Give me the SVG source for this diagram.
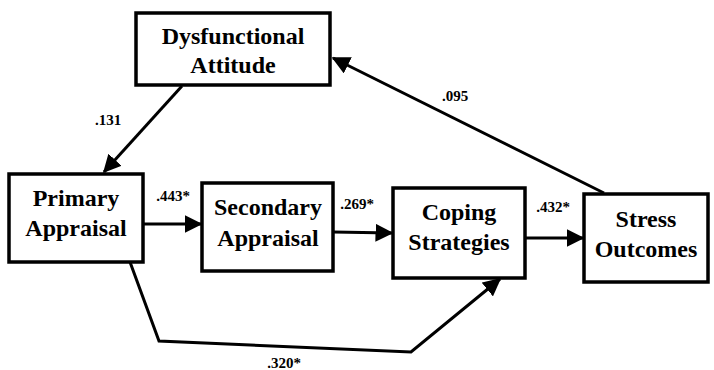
<svg xmlns="http://www.w3.org/2000/svg" width="714" height="370" viewBox="0 0 714 370">
<defs>
<marker id="ah" markerWidth="6" markerHeight="6" refX="5.5" refY="3" orient="auto" markerUnits="strokeWidth">
<path d="M0,0 L6,3 L0,6 z" fill="#000"/>
</marker>
</defs>
<style>
.box{fill:#fff;stroke:#000;stroke-width:3.5}
.nt{font-family:"Liberation Serif","Times New Roman",serif;font-weight:bold;font-size:24px;text-anchor:middle;fill:#000}
.lb{font-family:"Liberation Serif","Times New Roman",serif;font-weight:bold;font-size:15px;text-anchor:middle;fill:#000}
.c{fill:none;stroke:#000;stroke-width:3}
</style>
<rect width="714" height="370" fill="#fff"/>
<g id="connectors">
<line class="c" x1="182" y1="86" x2="104" y2="172" marker-end="url(#ah)"/>
<line class="c" x1="143" y1="224" x2="201" y2="224" marker-end="url(#ah)"/>
<line class="c" x1="333" y1="232" x2="392" y2="233" marker-end="url(#ah)"/>
<line class="c" x1="525" y1="238" x2="583" y2="238" marker-end="url(#ah)"/>
<line class="c" x1="604" y1="193" x2="333" y2="58" marker-end="url(#ah)"/>
<polyline class="c" points="130,262 159,341 411,352 500,279" marker-end="url(#ah)"/>
<text class="lb" x="108" y="125">.131</text>
<text class="lb" x="173" y="201">.443*</text>
<text class="lb" x="357" y="209">.269*</text>
<text class="lb" x="553" y="212">.432*</text>
<text class="lb" x="455" y="101">.095</text>
<text class="lb" x="284" y="368">.320*</text>
</g>
<g id="dysfunctional">
<rect class="box" x="136" y="13" width="194" height="72"/>
<text class="nt" x="233" y="44">Dysfunctional</text>
<text class="nt" x="233" y="73">Attitude</text>
</g>
<g id="primary">
<rect class="box" x="9" y="174" width="134" height="88"/>
<text class="nt" x="76" y="206">Primary</text>
<text class="nt" x="76" y="236">Appraisal</text>
</g>
<g id="secondary">
<rect class="box" x="202" y="183" width="131" height="88"/>
<text class="nt" x="268" y="215">Secondary</text>
<text class="nt" x="268" y="246">Appraisal</text>
</g>
<g id="coping">
<rect class="box" x="393" y="188" width="132" height="90"/>
<text class="nt" x="459" y="220">Coping</text>
<text class="nt" x="459" y="250">Strategies</text>
</g>
<g id="stress">
<rect class="box" x="584" y="194" width="124" height="88"/>
<text class="nt" x="646" y="227">Stress</text>
<text class="nt" x="646" y="257">Outcomes</text>
</g>
</svg>
